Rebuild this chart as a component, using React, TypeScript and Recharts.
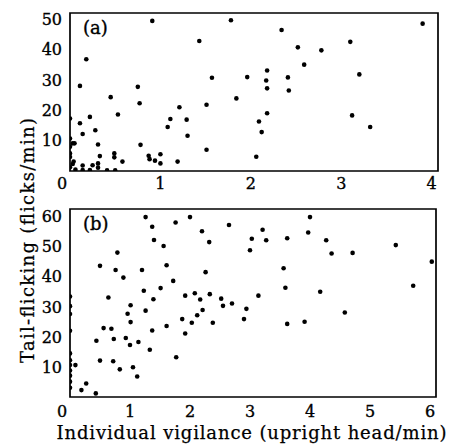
import React from "react";
import { ScatterChart, Scatter, XAxis, YAxis, ReferenceArea } from "recharts";

// Panel (a): individual vigilance vs tail-flicking
const panelAX = [
  0.91, 0.18, 0.11, 0.75, 0.45, 0.77, 1.21, 0.22, 0.53, 0.11, 0, 1.11, 1.29, 1.08, 0.28, 0.14, 1.3, 0.31, 0.78, 0,
  0.03, 0.05, 0, 0, 0.33, 0.49, 0.49, 0.87, 0.88, 1.0, 0.94, 1.0, 0.58, 1.19, 0.31, 0.31, 0.25, 0.14, 0.04, 0.03,
  0, 0, 0.14, 0.22, 0.41, 0.5, 0.06,
  1.78, 2.34, 1.43, 2.52, 2.59, 2.18, 1.57, 1.96, 2.17, 2.41, 2.18, 2.42, 1.84, 1.51, 2.18, 2.09, 2.12, 1.51, 2.06,
  3.9, 3.1, 2.78, 3.2, 3.12, 3.32,
];
const panelAY = [
  49.4, 36.8, 28, 27.7, 24.3, 22.3, 21, 17.8, 18.6, 15.7, 17.3, 17.1, 16.9, 14.5, 13.4, 12.2, 11.6, 8.7, 8.6, 10.7,
  9.1, 9.1, 8, 5.8, 4.9, 5.8, 4.5, 5, 3.9, 5.5, 3.4, 2.5, 3.1, 3.1, 2.5, 1.1, 1.9, 1.8, 3.1, 2.3,
  4.6, 1.2, 0.3, 0.3, 0.2, 0.2, 0.5,
  49.6, 46.4, 42.8, 40.7, 35, 33.1, 30.7, 30.9, 29.8, 30.8, 27.2, 26.5, 23.9, 21.8, 19, 16.3, 12.8, 7, 4.7,
  48.5, 42.5, 39.7, 31.8, 18.3, 14.5,
];

// Panel (b)
const panelBX = [
  1.26, 1.37, 1.76, 2.0, 1.4, 1.56, 0.79, 0.5, 1.61, 0.76, 1.2, 0.89, 1.72, 1.51, 1.23, 0.64, 1.92, 1.39, 1.01, 1.26,
  0.96, 1.01, 1.87, 1.61, 1.92, 0.56, 0.69, 1.37, 0.44, 0.73, 0.93, 1.14, 1.0, 1.33, 1.77, 0.5, 0.72, 1.05, 0.83, 1.12,
  0.27, 0.19, 0.43,
  0, 0, 0, 0, 0, 0, 0, 0, 0, 0, 0, 0.09,
  4.0, 2.65, 3.21, 2.2, 3.97, 3.03, 3.27, 3.62, 2.32, 3.0, 3.56, 2.26, 3.59, 2.08, 2.33, 2.17, 2.52, 3.14, 2.7, 2.55,
  2.21, 2.94, 2.12, 2.9, 2.03, 2.38, 3.62, 3.91,
  4.27, 4.36, 4.71, 5.43, 6.03, 4.17, 5.72, 4.58,
];
const panelBY = [
  59.8, 56.6, 58, 59.8, 52.2, 50.2, 48, 43.6, 43.8, 42.2, 42.2, 39.7, 38.6, 36.2, 35.3, 33.1, 33.7, 32.5, 30.5, 28.7,
  27.7, 24.9, 25.9, 23.6, 21.1, 22.9, 22.7, 22.1, 18.7, 19.3, 19.6, 18.3, 17.3, 15.7, 13.2, 12.1, 11.9, 9.9, 9.2, 6.8,
  4.5, 2.3, 1.2,
  33.4, 30.2, 27.6, 22, 14.5, 12.2, 10.6, 8.8, 7.1, 5.1, 3.1, 10.6,
  59.8, 57.2, 55.6, 55.1, 54.7, 52.6, 52.1, 52.8, 51.5, 48.8, 42.8, 41.5, 36.3, 34.5, 34.2, 32.4, 32.7, 33.7, 31.1, 30.3,
  28.9, 29.3, 27.2, 25.9, 24.7, 24.7, 24.3, 25,
  52.1, 47.7, 47.9, 50.5, 45, 35, 37, 28.1,
];

const xTicksA = [0, 1, 2, 3, 4];
const yTicksA = [10, 20, 30, 40, 50];
const xTicksB = [0, 1, 2, 3, 4, 5, 6];
const yTicksB = [10, 20, 30, 40, 50, 60];

const dataA = panelAX.map((x, i) => ({ x, y: panelAY[i] }));
const dataB = panelBX.map((x, i) => ({ x, y: panelBY[i] }));

const FONT = "'DejaVu Serif', serif";
const TEXT_STROKE = 0.35;

const Dot = (props: any) => <circle cx={props.cx} cy={props.cy} r={2.3} fill="#000" />;

const makeXTick = (dy: number) => (props: any) => {
  const { x, y, payload } = props;
  const isZero = payload.value === 0;
  return (
    <text
      x={x + (isZero ? -8 : 0)}
      y={y + dy}
      textAnchor="middle"
      fontFamily={FONT}
      fontSize={16}
      fill="#000"
      stroke="#000"
      strokeWidth={TEXT_STROKE}
    >
      {payload.value}
    </text>
  );
};

const YTick = (props: any) => {
  const { x, y, payload } = props;
  return (
    <text
      x={x - 8}
      y={y + 5.8}
      textAnchor="end"
      fontFamily={FONT}
      fontSize={16}
      fill="#000"
      stroke="#000"
      strokeWidth={TEXT_STROKE}
    >
      {payload.value}
    </text>
  );
};

const XMAX_A = 4.07;
const YMAX_A = 52;
const XMAX_B = 6.1;
const YMAX_B = 62.5;

export default function App() {
  return (
    <div style={{ position: "absolute", left: 0, top: 0, width: 449, height: 447, background: "#fff" }}>
      <div style={{ position: "absolute", left: 0, top: 0 }}>
        <ScatterChart width={449} height={200} margin={{ top: 13, right: 11, bottom: 0, left: 0 }}>
          <XAxis
            type="number"
            dataKey="x"
            domain={[0, XMAX_A]}
            ticks={xTicksA}
            allowDataOverflow
            height={29}
            tickSize={0}
            tickMargin={0}
            tickLine={false}
            axisLine={false}
            tick={makeXTick(18)}
            interval={0}
          />
          <YAxis
            type="number"
            dataKey="y"
            domain={[0, YMAX_A]}
            ticks={yTicksA}
            allowDataOverflow
            width={70}
            tickSize={0}
            tickMargin={0}
            tickLine={false}
            axisLine={false}
            tick={YTick}
            interval={0}
          />
          <ReferenceArea x1={0} x2={XMAX_A} y1={0} y2={YMAX_A} fill="none" stroke="#000" strokeWidth={1.7} />
          <Scatter data={dataA} shape={Dot} isAnimationActive={false} />
        </ScatterChart>
      </div>
      <div style={{ position: "absolute", left: 0, top: 196 }}>
        <ScatterChart width={449} height={251} margin={{ top: 13, right: 13, bottom: 0, left: 0 }}>
          <XAxis
            type="number"
            dataKey="x"
            domain={[0, XMAX_B]}
            ticks={xTicksB}
            allowDataOverflow
            height={50}
            tickSize={0}
            tickMargin={0}
            tickLine={false}
            axisLine={false}
            tick={makeXTick(20)}
            interval={0}
          />
          <YAxis
            type="number"
            dataKey="y"
            domain={[0, YMAX_B]}
            ticks={yTicksB}
            allowDataOverflow
            width={70}
            tickSize={0}
            tickMargin={0}
            tickLine={false}
            axisLine={false}
            tick={YTick}
            interval={0}
          />
          <ReferenceArea x1={0} x2={XMAX_B} y1={0} y2={YMAX_B} fill="none" stroke="#000" strokeWidth={1.7} />
          <Scatter data={dataB} shape={Dot} isAnimationActive={false} />
        </ScatterChart>
      </div>
      <svg
        width={449}
        height={447}
        style={{ position: "absolute", left: 0, top: 0, pointerEvents: "none" }}
      >
        <text x={83} y={34} fontFamily={FONT} fontSize={18} fill="#000" stroke="#000" strokeWidth={TEXT_STROKE}>(a)</text>
        <text x={83} y={230} fontFamily={FONT} fontSize={18} fill="#000" stroke="#000" strokeWidth={TEXT_STROKE}>(b)</text>
        <text
          x={0}
          y={0}
          transform="translate(34,240.5) rotate(-90)"
          textAnchor="middle"
          fontFamily={FONT}
          fontSize={18}
          fill="#000"
          stroke="#000"
          strokeWidth={0.25}
          textLength={245}
          lengthAdjust="spacing"
        >
          Tail-flicking (flicks/min)
        </text>
        <text
          x={251.5}
          y={439}
          textAnchor="middle"
          fontFamily={FONT}
          fontSize={18}
          fill="#000"
          stroke="#000"
          strokeWidth={0.25}
          textLength={390}
          lengthAdjust="spacing"
        >
          Individual vigilance (upright head/min)
        </text>
      </svg>
    </div>
  );
}
